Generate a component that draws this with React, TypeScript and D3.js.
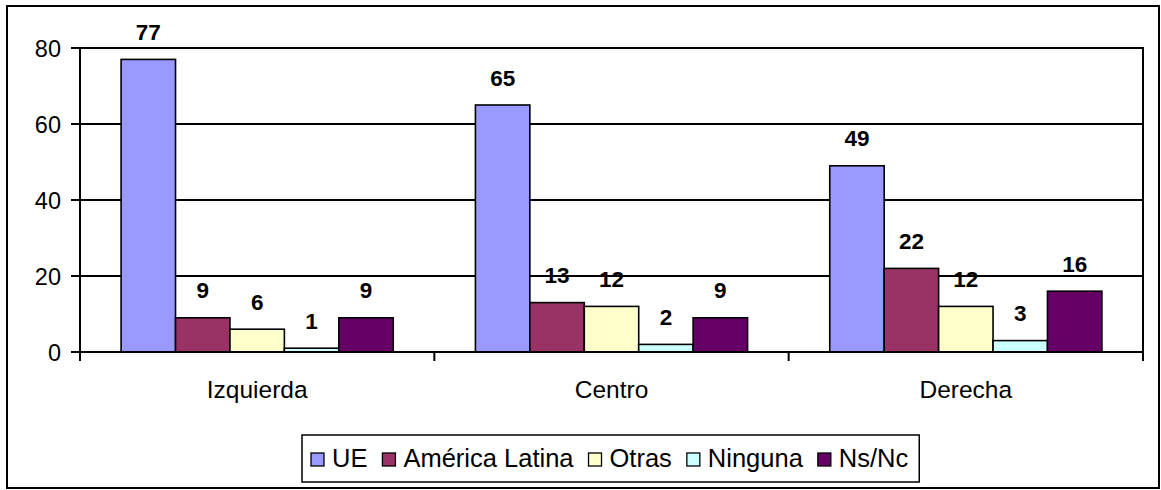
import React from "react";
import * as d3 from "d3";

const categories = ["Izquierda", "Centro", "Derecha"];
const seriesNames = ["UE", "América Latina", "Otras", "Ninguna", "Ns/Nc"];
const ueValues = [77, 65, 49];
const americaLatinaValues = [9, 13, 22];
const otrasValues = [6, 12, 12];
const ningunaValues = [1, 2, 3];
const nsncValues = [9, 9, 16];
const yTicks = [0, 20, 40, 60, 80];
const seriesColors = ["#9999FF", "#993366", "#FFFFCC", "#CCFFFF", "#660066"];

const seriesValues = [ueValues, americaLatinaValues, otrasValues, ningunaValues, nsncValues];

const FONT = "'Liberation Sans', Arial, sans-serif";
const W = 1161;
const H = 490;

function measure(text: string, font: string): number {
  if (typeof document === "undefined") return text.length * 12;
  const c = document.createElement("canvas");
  const ctx = c.getContext("2d");
  if (!ctx) return text.length * 12;
  ctx.font = font;
  return ctx.measureText(text).width;
}

export default function App() {
  const plotLeft = 80;
  const plotRight = 1143;
  const plotTop = 48;
  const plotBottom = 352;

  const x = d3.scaleBand<string>().domain(categories).range([plotLeft, plotRight]).paddingInner(0).paddingOuter(0);
  const xs = d3.scaleBand<string>().domain(seriesNames).range([0, x.bandwidth()]).paddingInner(0).paddingOuter(0.755);
  const y = d3.scaleLinear().domain([0, 80]).range([plotBottom, plotTop]);

  const legendFontSize = 25.5;
  const legendFont = `${legendFontSize}px ${FONT}`;
  const sq = 13;
  const gapSqText = 8;
  const gapItem = 15;
  const legendLeft = 302;
  const legendTop = 435;
  const legendBottom = 482;
  let cursor = legendLeft + 9;
  const legendItems = seriesNames.map((name, i) => {
    const tw = measure(name, legendFont);
    const item = { name, color: seriesColors[i], sx: cursor, tx: cursor + sq + gapSqText, tw };
    cursor = cursor + sq + gapSqText + tw + gapItem;
    return item;
  });
  const legendRight = cursor - gapItem + 11;

  const boundaries = [plotLeft, ...categories.map((c) => (x(c) as number) + x.bandwidth())];

  return (
    <svg width={W} height={H} style={{ position: "absolute", left: 0, top: 0, background: "#fff" }} fontFamily={FONT}>
      <rect x={0} y={0} width={W} height={H} fill="#fff" />
      {/* outer border */}
      <rect x={7} y={6} width={1152} height={482} fill="none" stroke="#000" strokeWidth={2} />

      {/* gridlines */}
      {yTicks.filter((t) => t > 0).map((t) => (
        <line key={"g" + t} x1={plotLeft} x2={plotRight} y1={y(t)} y2={y(t)} stroke="#000" strokeWidth={2} />
      ))}
      {/* right plot edge */}
      <line x1={plotRight} x2={plotRight} y1={plotTop - 1} y2={plotBottom} stroke="#000" strokeWidth={2} />

      {/* bars */}
      {categories.map((cat, ci) => (
        <g key={cat}>
          {seriesNames.map((s, si) => {
            const v = seriesValues[si][ci];
            const bx = (x(cat) as number) + (xs(s) as number);
            return (
              <rect
                key={s}
                x={bx}
                y={y(v)}
                width={xs.bandwidth()}
                height={y(0) - y(v)}
                fill={seriesColors[si]}
                stroke="#000"
                strokeWidth={1.6}
              />
            );
          })}
        </g>
      ))}

      {/* data labels */}
      {categories.map((cat, ci) => (
        <g key={"l" + cat}>
          {seriesNames.map((s, si) => {
            const v = seriesValues[si][ci];
            const cx = (x(cat) as number) + (xs(s) as number) + xs.bandwidth() / 2;
            return (
              <text key={s} x={cx} y={y(v) - 19.5} textAnchor="middle" fontSize={22.5} fontWeight="bold" fill="#000">
                {v}
              </text>
            );
          })}
        </g>
      ))}

      {/* y axis */}
      <line x1={plotLeft} x2={plotLeft} y1={plotTop - 1} y2={plotBottom + 9} stroke="#000" strokeWidth={2} />
      {yTicks.map((t) => (
        <g key={"t" + t}>
          <line x1={plotLeft - 9} x2={plotLeft} y1={y(t)} y2={y(t)} stroke="#000" strokeWidth={2} />
          <text x={61} y={y(t) + 8.5} textAnchor="end" fontSize={23.5} fill="#000">
            {t}
          </text>
        </g>
      ))}

      {/* x axis */}
      <line x1={plotLeft} x2={plotRight} y1={plotBottom} y2={plotBottom} stroke="#000" strokeWidth={2} />
      {boundaries.map((bx, i) => (
        <line key={"xt" + i} x1={bx} x2={bx} y1={plotBottom} y2={plotBottom + 9} stroke="#000" strokeWidth={2} />
      ))}
      {categories.map((cat) => (
        <text key={"c" + cat} x={(x(cat) as number) + x.bandwidth() / 2} y={398} textAnchor="middle" fontSize={24.5} fill="#000">
          {cat}
        </text>
      ))}

      {/* legend */}
      <rect x={legendLeft} y={legendTop} width={legendRight - legendLeft} height={legendBottom - legendTop} fill="#fff" stroke="#000" strokeWidth={1.5} />
      {legendItems.map((it) => (
        <g key={"lg" + it.name}>
          <rect x={it.sx} y={453} width={sq} height={sq} fill={it.color} stroke="#000" strokeWidth={1.3} />
          <text x={it.tx} y={467} fontSize={legendFontSize} fill="#000">
            {it.name}
          </text>
        </g>
      ))}
    </svg>
  );
}
